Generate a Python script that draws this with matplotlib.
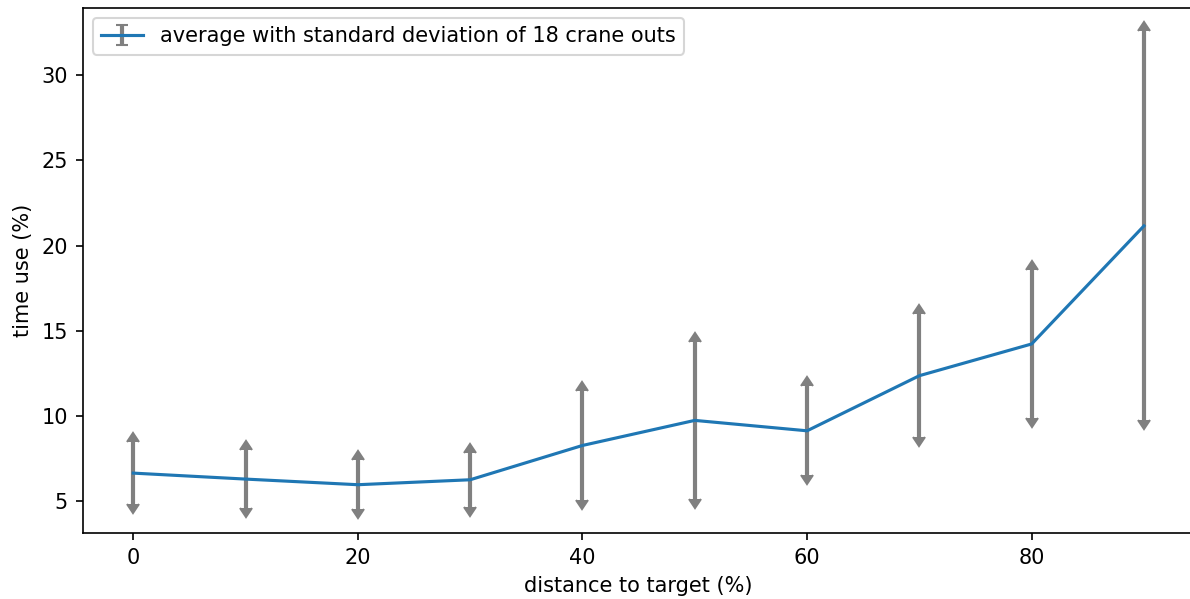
import matplotlib
matplotlib.use("Agg")
import matplotlib.pyplot as plt
import matplotlib.lines as mlines
import numpy as np

distance = [0, 10, 20, 30, 40, 50, 60, 70, 80, 90]
mean_time = [6.66, 6.31, 5.98, 6.27, 8.28, 9.75, 9.14, 12.37, 14.23, 21.15]
std_time = [1.83, 1.71, 1.43, 1.57, 3.17, 4.6, 2.6, 3.6, 4.32, 11.4]

W, H = 1190, 599
fig = plt.figure(figsize=(W / 150, H / 150), dpi=150)
left, right, top, bottom = 82.7, 1194.5, 7.5, 533
ax = fig.add_axes([left / W, 1 - bottom / H, (right - left) / W, (bottom - top) / H])
cont = ax.errorbar(distance, mean_time, yerr=std_time,
                   ecolor='gray', elinewidth=2, capsize=3, color='tab:blue',
                   label='average with standard deviation of 18 crane outs')
means = np.array(mean_time)
for cl in cont[1]:
    yd = np.asarray(cl.get_ydata())
    if np.mean(yd) > np.mean(means):
        cl.set_marker(mlines.CARETUPBASE)
    else:
        cl.set_marker(mlines.CARETDOWNBASE)
    cl.set_markerfacecolor('gray')
    cl.set_markeredgecolor('gray')
ax.set_xlabel('distance to target (%)')
ax.set_ylabel('time use (%)')
ax.legend(loc='upper left')
fig.savefig('out.png', dpi=150)
